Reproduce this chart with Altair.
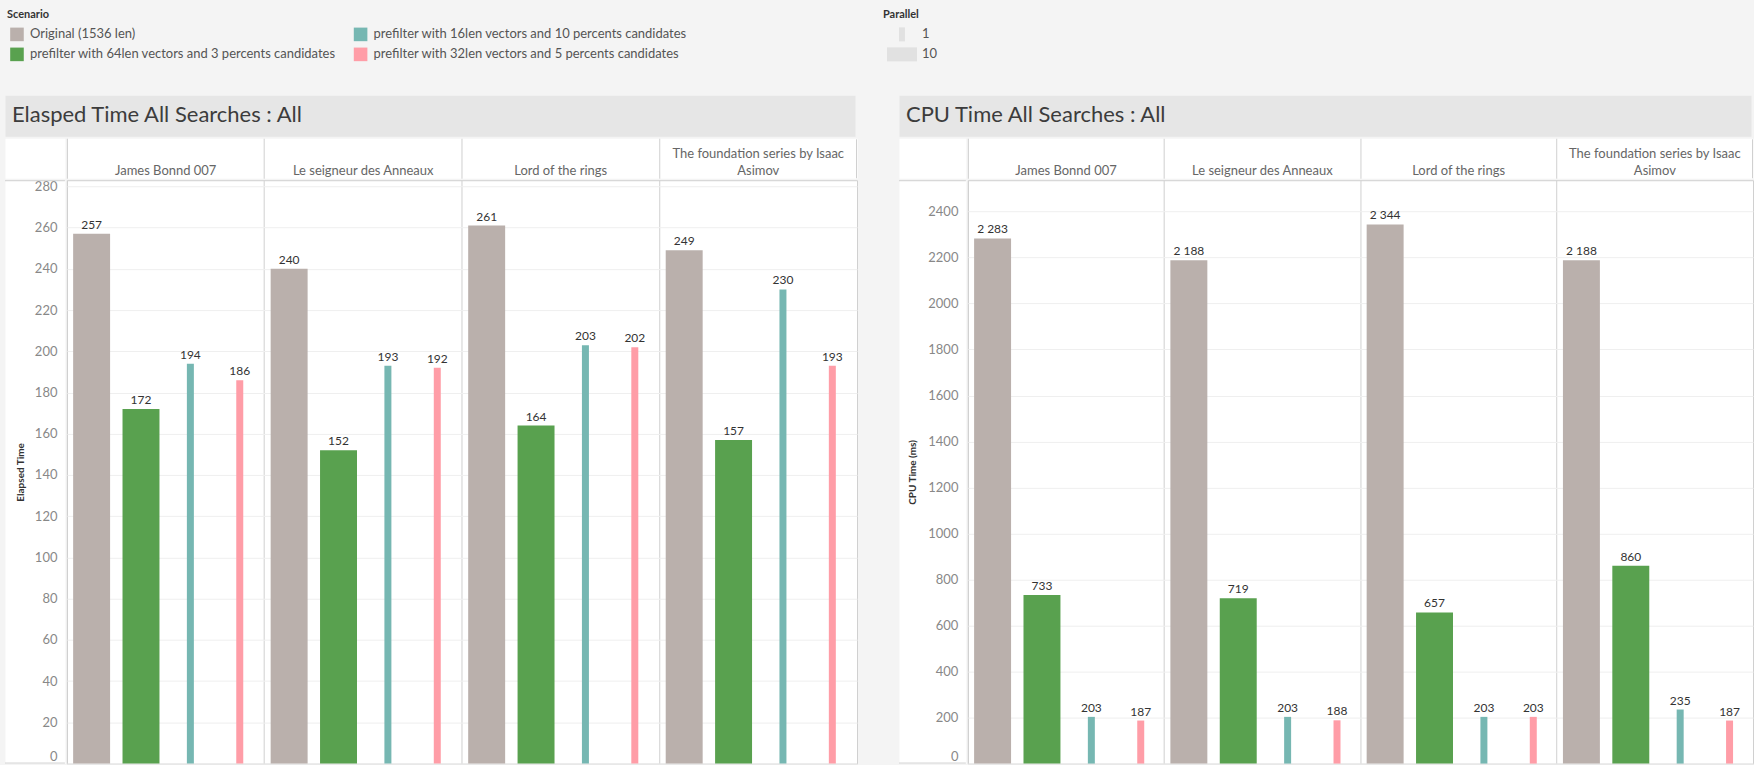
import altair as alt
import pandas as pd

# ---------------- data ----------------
groups = ["James Bonnd 007", "Le seigneur des Anneaux", "Lord of the rings",
          "The foundation series by Isaac Asimov"]
header_top = ["", "", "", "The foundation series by Isaac"]
header_bottom = ["James Bonnd 007", "Le seigneur des Anneaux", "Lord of the rings", "Asimov"]
scenarios = ["Original (1536 len)",
             "prefilter with 64len vectors and 3 percents candidates",
             "prefilter with 16len vectors and 10 percents candidates",
             "prefilter with 32len vectors and 5 percents candidates"]
scenario_colors = ["#bab0ac", "#59a14f", "#76b7b2", "#ff9da7"]
parallel = [10, 10, 1, 1]

elapsed_original = [257, 240, 261, 249]
elapsed_64len = [172, 152, 164, 157]
elapsed_16len = [194, 193, 203, 230]
elapsed_32len = [186, 192, 202, 193]

cpu_original = [2283, 2188, 2344, 2188]
cpu_64len = [733, 719, 657, 860]
cpu_16len = [203, 203, 203, 235]
cpu_32len = [187, 188, 203, 187]

elapsed_ticks = list(range(0, 281, 20))
cpu_ticks = list(range(0, 2401, 200))

parallel_values = [1, 10]
parallel_labels = ["1", "10"]

FONT = "Lato"
TITLE_FONT = "Liberation Sans Narrow, Lato"
LINE = "#d0d0d0"


def build(series):
    rows = []
    for gi, g in enumerate(groups):
        for si, s in enumerate(scenarios):
            v = series[si][gi]
            rows.append({"Group": g, "Scenario": s, "Parallel": parallel[si],
                         "Value": v, "Label": f"{v:,}".replace(",", " ")})
    return pd.DataFrame(rows)


elapsed_df = build([elapsed_original, elapsed_64len, elapsed_16len, elapsed_32len])
cpu_df = build([cpu_original, cpu_64len, cpu_16len, cpu_32len])

color_enc = alt.Color(
    "Scenario:N",
    scale=alt.Scale(domain=scenarios, range=scenario_colors),
    legend=alt.Legend(
        title="Scenario", orient="none", legendX=2, legendY=8, columns=2,
        symbolType="square", symbolSize=185, symbolStrokeWidth=0, symbolOpacity=1,
        symbolOffset=3, labelOffset=6, labelFont=FONT, labelFontSize=13,
        labelColor="#555555", labelLimit=600, titleFont=FONT, titleFontSize=11,
        titleFontWeight="bold", titleColor="#333333", titlePadding=7,
        rowPadding=6, columnPadding=14, padding=0),
)

H_TITLE, H_HEAD, H_PLOT = 41, 40, 584
WHITE = alt.ViewBackground(fill="white", stroke="transparent")


def panel(title, df, y_title, y_max, y_ticks, axis_w, plot_w, extent):
    total_w = axis_w + plot_w
    one = pd.DataFrame({"t": [title]})

    title_bar = alt.Chart(one, view=alt.ViewBackground(fill="#e6e6e6", stroke="transparent")).mark_text(
        align="left", baseline="alphabetic", font=TITLE_FONT, fontSize=22, color="#3c3c3c"
    ).encode(x=alt.value(7), y=alt.value(27), text="t:N").properties(width=total_w, height=H_TITLE)

    # header row
    head_df = pd.DataFrame({"Group": groups, "Top": header_top, "Bottom": header_bottom})
    head_blank = alt.Chart(one, view=WHITE).mark_text(text="").encode(
        x=alt.value(axis_w / 2), y=alt.value(20)).properties(width=axis_w, height=H_HEAD)
    head_x = alt.X("Group:N", sort=groups,
                   scale=alt.Scale(type="band", paddingInner=0, paddingOuter=0),
                   axis=alt.Axis(grid=True, bandPosition=0, gridColor=LINE, labels=False,
                                 ticks=False, domain=False, title=None))
    head_bottom = alt.Chart(head_df).mark_text(
        baseline="alphabetic", font=FONT, fontSize=13, color="#666666"
    ).encode(x=head_x, y=alt.value(37), text="Bottom:N")
    head_top = alt.Chart(head_df).mark_text(
        baseline="alphabetic", font=FONT, fontSize=13, color="#666666"
    ).encode(x=head_x, y=alt.value(20), text="Top:N")
    head_edge = alt.Chart(one).mark_rule(color=LINE).encode(
        x=alt.value(plot_w - 0.5), y=alt.value(1), y2=alt.value(H_HEAD))
    header = alt.layer(head_bottom, head_top, head_edge, view=WHITE).properties(
        width=plot_w, height=H_HEAD)

    # plot row
    y_scale = alt.Scale(domain=[0, y_max], nice=False, zero=True)
    axis_pts = alt.Chart(df).mark_point(opacity=0).encode(
        y=alt.Y("Value:Q", scale=y_scale,
                axis=alt.Axis(values=y_ticks, format="d", orient="left", offset=-axis_w,
                              labelPadding=8, ticks=False, domain=False, grid=False,
                              labelFlush=True, labelFont=FONT, labelFontSize=13,
                              labelColor="#888888", title=y_title, titleFont=FONT,
                              titleFontSize=10, titleFontWeight="bold", titleColor="#333333",
                              minExtent=extent, maxExtent=extent, titlePadding=2)))
    top_line = alt.Chart(one).mark_rule(color=LINE).encode(
        x=alt.value(0), x2=alt.value(axis_w), y=alt.value(0.5))
    bot_line = alt.Chart(one).mark_rule(color=LINE).encode(
        x=alt.value(0), x2=alt.value(axis_w), y=alt.value(H_PLOT - 0.5))
    axis_chart = alt.layer(axis_pts, top_line, bot_line, view=WHITE).properties(
        width=axis_w, height=H_PLOT)

    base = alt.Chart(df).encode(
        x=alt.X("Group:N", sort=groups, scale=alt.Scale(paddingInner=0, paddingOuter=0),
                axis=alt.Axis(grid=True, bandPosition=0, gridColor=LINE, labels=False,
                              ticks=False, domain=False, title=None)),
        xOffset=alt.XOffset("Scenario:N", sort=scenarios,
                            scale=alt.Scale(paddingInner=0, paddingOuter=0)),
        y=alt.Y("Value:Q", scale=y_scale,
                axis=alt.Axis(values=y_ticks, grid=True, gridColor="#efefef", labels=False,
                              ticks=False, domain=False, title=None)),
    )
    bars = base.mark_bar().encode(
        color=color_enc,
        size=alt.Size("Parallel:Q", scale=alt.Scale(domain=[1, 10], range=[7, 37]), legend=None),
    )
    texts = base.mark_text(baseline="alphabetic", dy=-5, font=FONT, fontSize=12,
                           color="#333333").encode(text="Label:N")
    plot = alt.layer(bars, texts, view=alt.ViewBackground(fill="white", stroke=LINE)).properties(
        width=plot_w, height=H_PLOT)

    return alt.vconcat(
        title_bar,
        alt.hconcat(head_blank, header, spacing=0),
        alt.hconcat(axis_chart, plot, spacing=0),
        spacing=0,
    )


left = panel("Elasped Time All Searches : All", elapsed_df, "Elapsed Time", 283,
             elapsed_ticks, 60, 791, 37)
right = panel("CPU Time All Searches : All", cpu_df, "CPU Time (ms)", 2536,
              cpu_ticks, 67, 786, 46)

# Parallel legend (top row)
par_df = pd.DataFrame({"Parallel": parallel_values, "Label": parallel_labels})
par_y = alt.Y("Label:N", sort=parallel_labels,
              scale=alt.Scale(type="point", range=[33, 53], padding=0), axis=None)
par_title = alt.Chart(pd.DataFrame({"t": ["Parallel"]})).mark_text(
    align="left", baseline="middle", font=FONT, fontSize=11, fontWeight="bold", color="#333333"
).encode(x=alt.value(879), y=alt.value(14), text="t:N")
par_ticks = alt.Chart(par_df).mark_tick(orient="horizontal", thickness=14, color="#d9d9d9").encode(
    x=alt.value(898), y=par_y,
    size=alt.Size("Parallel:Q", scale=alt.Scale(domain=[1, 10], range=[6, 30]), legend=None))
par_text = alt.Chart(par_df).mark_text(
    align="left", baseline="middle", font=FONT, fontSize=13, color="#555555"
).encode(x=alt.value(918), y=par_y, text="Label:N")
legend_row = alt.layer(par_title, par_ticks, par_text,
                       view=alt.ViewBackground(fill="transparent", stroke="transparent")
                       ).properties(width=1748, height=92)

chart = alt.vconcat(
    legend_row,
    alt.hconcat(left, right, spacing=40),
    spacing=0,
).resolve_scale(size="independent").properties(
    padding={"left": 4, "top": 0, "right": 0, "bottom": 0}
).configure(background="#f4f4f4", font=FONT)

chart.save("out.html", embed_options={"renderer": "svg", "actions": False})
